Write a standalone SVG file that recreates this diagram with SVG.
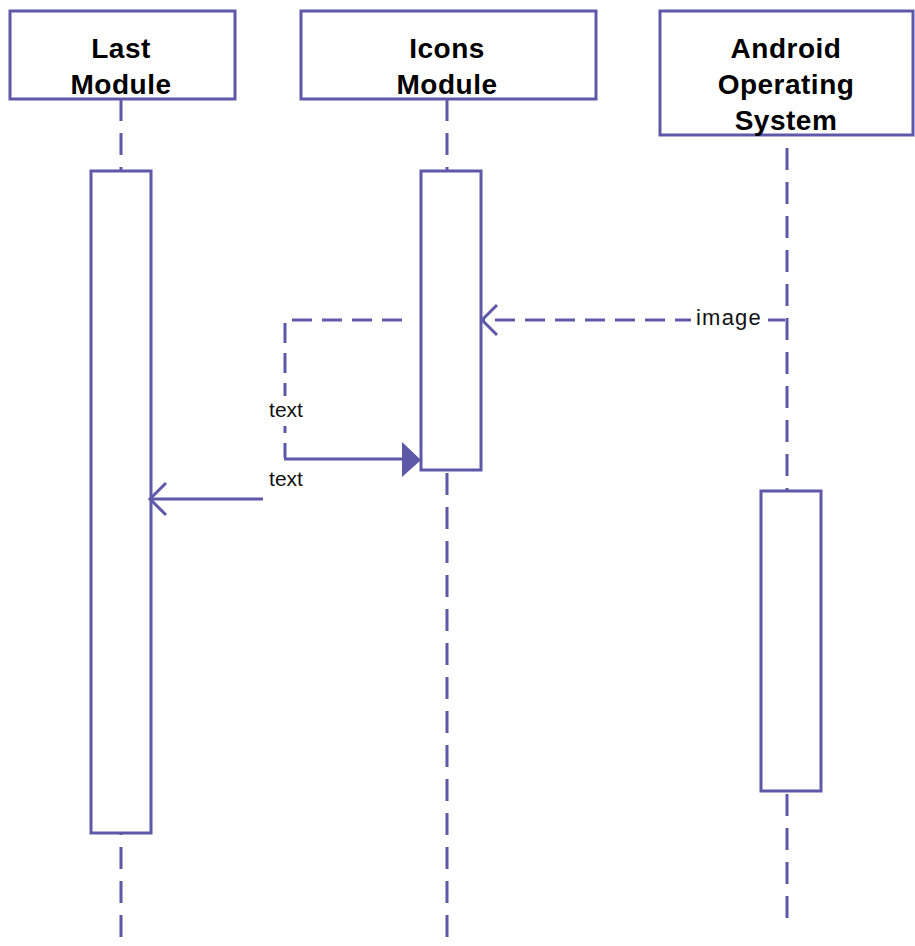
<svg xmlns="http://www.w3.org/2000/svg" width="915" height="946" viewBox="0 0 915 946">
<style>
.box{fill:#fff;stroke:#5d59a8;stroke-width:3}
.life{fill:none;stroke:#5d59a8;stroke-width:3;stroke-dasharray:22 12}
.msg{fill:none;stroke:#5d59a8;stroke-width:3}
.dash{stroke-dasharray:20 10}
.head{font-family:"Liberation Sans",Arial,sans-serif;font-weight:bold;font-size:28px;letter-spacing:0.5px;fill:#000;text-anchor:middle}
.lbl{font-family:"Liberation Sans",Arial,sans-serif;font-size:21px;fill:#111;text-anchor:middle}
</style>
<rect width="915" height="946" fill="#fff"/>
<g id="lifelines">
<line class="life" x1="121" y1="99" x2="121" y2="946"/>
<line class="life" x1="447" y1="99" x2="447" y2="940"/>
<line class="life" x1="787" y1="148" x2="787" y2="920"/>
</g>
<g id="last-module">
<rect class="box" x="10" y="11" width="225" height="88"/>
<text class="head" x="121" y="58">Last</text>
<text class="head" x="121" y="94">Module</text>
<rect class="box" x="91" y="171" width="60" height="662"/>
</g>
<g id="icons-module">
<rect class="box" x="301" y="11" width="295" height="88"/>
<text class="head" x="447" y="58">Icons</text>
<text class="head" x="447" y="94">Module</text>
<rect class="box" x="421" y="171" width="60" height="299"/>
</g>
<g id="android-os">
<rect class="box" x="660" y="11" width="253" height="124"/>
<text class="head" x="786" y="58">Android</text>
<text class="head" x="786" y="94">Operating</text>
<text class="head" x="786" y="130">System</text>
<rect class="box" x="761" y="491" width="60" height="300"/>
</g>
<g id="connectors">
<line class="msg dash" x1="785" y1="320" x2="483" y2="320"/>
<polyline class="msg" points="497,305 482,320 497,335"/>
<rect x="691" y="306" width="77" height="28" fill="#fff"/>
<text class="lbl" x="729" y="325" style="font-size:22px;letter-spacing:1.2px">image</text>
<path class="msg dash" d="M402,320 H285 V458"/>
<line class="msg" x1="284" y1="459" x2="404" y2="459"/>
<polygon points="402,442 421,460 402,477" fill="#5d59a8"/>
<rect x="265" y="396" width="42" height="30" fill="#fff"/>
<text class="lbl" x="286" y="417">text</text>
<line class="msg" x1="263" y1="499" x2="150" y2="499"/>
<polyline class="msg" points="166,483 150,499 166,515"/>
<text class="lbl" x="286" y="486">text</text>
</g>
</svg>
